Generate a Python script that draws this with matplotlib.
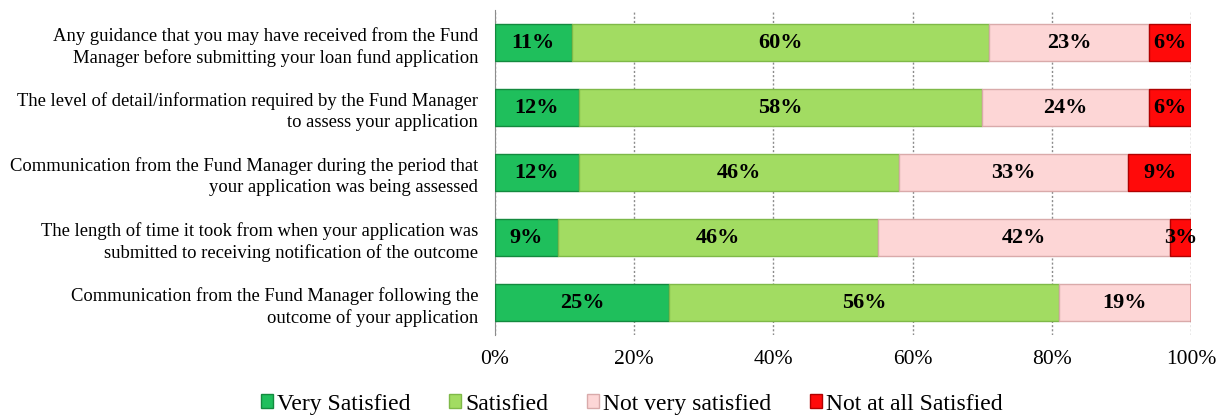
import matplotlib.pyplot as plt
import numpy as np

questions = [
    "Any guidance that you may have received from the Fund\nManager before submitting your loan fund application",
    "The level of detail/information required by the Fund Manager\nto assess your application",
    "Communication from the Fund Manager during the period that\nyour application was being assessed",
    "The length of time it took from when your application was\nsubmitted to receiving notification of the outcome",
    "Communication from the Fund Manager following the\noutcome of your application",
]
very_satisfied = [11, 12, 12, 9, 25]
satisfied = [60, 58, 46, 46, 56]
not_very = [23, 24, 33, 42, 19]
not_at_all = [6, 6, 9, 3, 0]

series = [
    ("Very Satisfied", very_satisfied, "#1fbf5c", "#138a3e"),
    ("Satisfied", satisfied, "#a2dc62", "#7fb948"),
    ("Not very satisfied", not_very, "#fdd6d6", "#d9aaaa"),
    ("Not at all Satisfied", not_at_all, "#ff0a0a", "#b00000"),
]

plt.rcParams["font.family"] = ["Liberation Serif", "DejaVu Serif"]

fig = plt.figure(figsize=(12.27, 4.15), dpi=100)
ax = fig.add_axes([495 / 1227, 1 - 335 / 415, 696 / 1227, 325 / 415])

y = np.arange(len(questions))
left = np.zeros(len(questions))
for name, vals, color, edge in series:
    vals = np.array(vals, dtype=float)
    ax.barh(y, vals, left=left, height=0.58, color=color, edgecolor=edge,
            linewidth=1.0, label=name, zorder=3)
    for yi, l, v in zip(y, left, vals):
        if v > 0:
            ax.text(l + v / 2, yi, f"{int(v)}%", ha="center", va="center",
                    fontsize=16, fontweight="bold", zorder=4)
    left += vals

ax.set_xlim(0, 100)
ax.set_ylim(len(questions) - 0.5, -0.5)
ax.set_yticks(y)
ax.set_yticklabels(questions, fontsize=13.4, linespacing=1.3)
ax.set_xticks(np.arange(0, 101, 20))
ax.set_xticklabels([f"{v}%" for v in range(0, 101, 20)], fontsize=15.5)
ax.tick_params(axis="y", length=0, pad=12)
ax.tick_params(axis="x", length=0, pad=11)
ax.grid(axis="x", linestyle=(0, (1.5, 1.5)), color="#8c8c8c", linewidth=1, zorder=0)
for s in ["top", "right", "bottom"]:
    ax.spines[s].set_visible(False)
ax.spines["left"].set_color("#8c8c8c")

fig.legend(loc="lower center", bbox_to_anchor=(0.515, -0.05), ncol=4, frameon=False,
           fontsize=17, handlelength=0.5, handleheight=0.5, handletextpad=0.2,
           columnspacing=1.62)

fig.savefig("out.png", dpi=100)
